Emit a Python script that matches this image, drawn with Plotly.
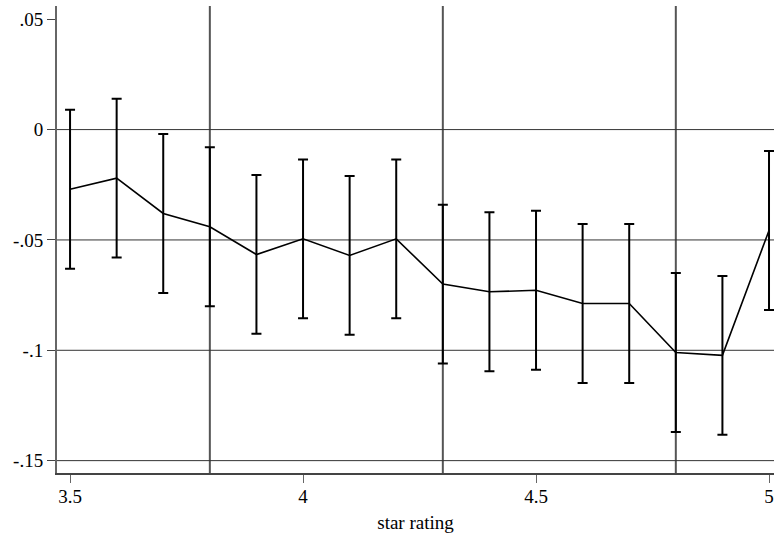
import plotly.graph_objects as go

star = [3.5, 3.6, 3.7, 3.8, 3.9, 4.0, 4.1, 4.2, 4.3, 4.4, 4.5, 4.6, 4.7, 4.8, 4.9, 5.0]
coef = [-0.027, -0.022, -0.038, -0.044, -0.0566, -0.0495, -0.057, -0.0495, -0.070, -0.0735,
        -0.0728, -0.0788, -0.0788, -0.1010, -0.1023, -0.0457]
ci_low = [-0.063, -0.058, -0.074, -0.080, -0.0925, -0.0855, -0.093, -0.0855, -0.106, -0.1095,
          -0.1088, -0.1148, -0.1148, -0.1370, -0.1383, -0.0817]
ci_high = [0.009, 0.014, -0.002, -0.008, -0.0206, -0.0135, -0.021, -0.0135, -0.034, -0.0375,
           -0.0368, -0.0428, -0.0428, -0.0650, -0.0663, -0.0097]
ref_lines_x = [3.8, 4.3, 4.8]
ref_lines_y = [0, -0.05, -0.1, -0.15]
x_ticks = [3.5, 4, 4.5, 5]
x_labels = ["3.5", "4", "4.5", "5"]
y_ticks = [0.05, 0, -0.05, -0.1, -0.15]
y_labels = [".05", "0", "-.05", "-.1", "-.15"]

err_plus = [h - c for h, c in zip(ci_high, coef)]
err_minus = [c - l for c, l in zip(coef, ci_low)]

fig = go.Figure()
fig.add_trace(go.Scatter(
    x=star, y=coef, mode="lines",
    line=dict(color="black", width=1.6),
    error_y=dict(type="data", symmetric=False, array=err_plus, arrayminus=err_minus,
                 color="black", thickness=2, width=5),
    showlegend=False, cliponaxis=False,
))

for xv in ref_lines_x:
    fig.add_shape(type="line", xref="x", yref="paper", x0=xv, x1=xv, y0=0, y1=1,
                  line=dict(color="#555555", width=2), layer="below")
for yv in ref_lines_y:
    fig.add_shape(type="line", xref="paper", yref="y", x0=0, x1=1, y0=yv, y1=yv,
                  line=dict(color="#333333", width=1), layer="below")

font = dict(family="Liberation Serif, serif", size=19, color="black")
fig.update_layout(
    width=774, height=538,
    margin=dict(l=57, r=0, t=6, b=65),
    paper_bgcolor="white", plot_bgcolor="white",
    font=font,
    xaxis=dict(range=[3.472, 5.0107], tickvals=x_ticks, ticktext=x_labels, tickfont=font,
               showgrid=False, zeroline=False, showline=True, linecolor="#444444", linewidth=1.5,
               ticks="outside", ticklen=8, tickcolor="#666666", tickwidth=1.2,
               ticklabelstandoff=-3,
               title=dict(text="star rating", standoff=10, font=font)),
    yaxis=dict(range=[-0.1556, 0.056], tickvals=y_ticks, ticktext=y_labels, tickfont=font,
               showgrid=False, zeroline=False,
               showline=True, linecolor="#666666", linewidth=2,
               ticks="outside", ticklen=8, tickcolor="#444444", tickwidth=1.2),
)

js = (
    "document.body.style.margin='0';document.body.style.overflow='hidden';"
    "document.querySelectorAll('.xtick text, .ytick text').forEach(function(t){"
    "t.style.fontFamily='\"Liberation Serif\", serif';});"
)
fig.write_html("out.html", config={"displayModeBar": False}, post_script=js)
